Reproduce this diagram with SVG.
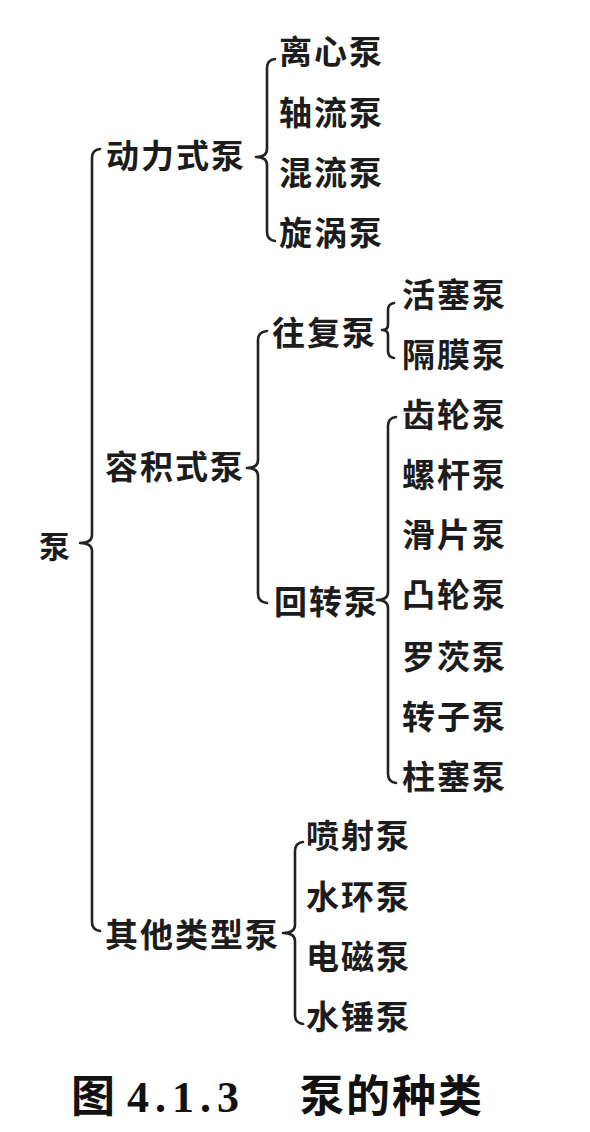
<svg xmlns="http://www.w3.org/2000/svg" width="590" height="1132" viewBox="0 0 590 1132">
<style>
  .lbl { font-family: "Noto Sans CJK SC", "Noto Sans", sans-serif; font-size: 33px; font-weight: 700; fill: #1c1c1c; letter-spacing: 2px; dominant-baseline: central; }
  .root { font-size: 31px; }
  .brace { fill: none; stroke: #222; stroke-width: 2.6; stroke-linecap: round; stroke-linejoin: round; }
  .cap { font-family: "Liberation Serif", "Noto Sans CJK SC", serif; font-size: 44px; font-weight: 700; fill: #111; }
</style>
<rect width="590" height="1132" fill="#ffffff"/>
<g id="connectors">
  <path class="brace" d="M100,149 Q92,150 92,158 L92,535 Q92,543 80,543 Q92,543 92,551 L92,922 Q92,930 100,931"/>
  <path class="brace" d="M275,59 Q267,60 267,68 L267,149 Q267,157 256,157 Q267,157 267,165 L267,232 Q267,240 275,241"/>
  <path class="brace" d="M267,331 Q258,332 258,340 L258,460 Q258,468 247,468 Q258,468 258,476 L258,594 Q258,602 267,603"/>
  <path class="brace" d="M394,303 Q388,304 388,310 L388,325 Q388,330 382,330 Q388,330 388,335 L388,351 Q388,357 394,358"/>
  <path class="brace" d="M396,417 Q388,418 388,426 L388,592 Q388,600 377,600 Q388,600 388,608 L388,774 Q388,782 396,783"/>
  <path class="brace" d="M303,842 Q295,843 295,851 L295,925 Q295,933 283,933 Q295,933 295,941 L295,1015 Q295,1023 303,1024"/>
</g>
<g id="n-root"><text class="lbl root" x="39" y="544">泵</text></g>
<g id="n-dongli"><text class="lbl" x="106" y="154">动力式泵</text></g>
<g id="n-lixin"><text class="lbl" x="279" y="50">离心泵</text></g>
<g id="n-zhouliu"><text class="lbl" x="279" y="111">轴流泵</text></g>
<g id="n-hunliu"><text class="lbl" x="279" y="171">混流泵</text></g>
<g id="n-xuanwo"><text class="lbl" x="279" y="231">旋涡泵</text></g>
<g id="n-rongji"><text class="lbl" x="105" y="465">容积式泵</text></g>
<g id="n-wangfu"><text class="lbl" x="272" y="331">往复泵</text></g>
<g id="n-huosai"><text class="lbl" x="402" y="293">活塞泵</text></g>
<g id="n-gemo"><text class="lbl" x="402" y="353">隔膜泵</text></g>
<g id="n-huizhuan"><text class="lbl" x="274" y="600">回转泵</text></g>
<g id="n-chilun"><text class="lbl" x="402" y="413">齿轮泵</text></g>
<g id="n-luogan"><text class="lbl" x="402" y="473">螺杆泵</text></g>
<g id="n-huapian"><text class="lbl" x="402" y="533">滑片泵</text></g>
<g id="n-tulun"><text class="lbl" x="402" y="593">凸轮泵</text></g>
<g id="n-luoci"><text class="lbl" x="402" y="655">罗茨泵</text></g>
<g id="n-zhuanzi"><text class="lbl" x="402" y="715">转子泵</text></g>
<g id="n-zhusai"><text class="lbl" x="402" y="775">柱塞泵</text></g>
<g id="n-qita"><text class="lbl" x="105" y="933">其他类型泵</text></g>
<g id="n-penshe"><text class="lbl" x="306" y="834">喷射泵</text></g>
<g id="n-shuihuan"><text class="lbl" x="306" y="895">水环泵</text></g>
<g id="n-dianci"><text class="lbl" x="306" y="955">电磁泵</text></g>
<g id="n-shuichui"><text class="lbl" x="306" y="1015">水锤泵</text></g>
<g id="caption">
  <text class="cap" y="1112"><tspan x="71">图</tspan><tspan x="127" letter-spacing="6">4.1.3</tspan><tspan x="300" letter-spacing="2" font-family="Noto Sans CJK SC, sans-serif">泵的种类</tspan></text>
</g>
</svg>
